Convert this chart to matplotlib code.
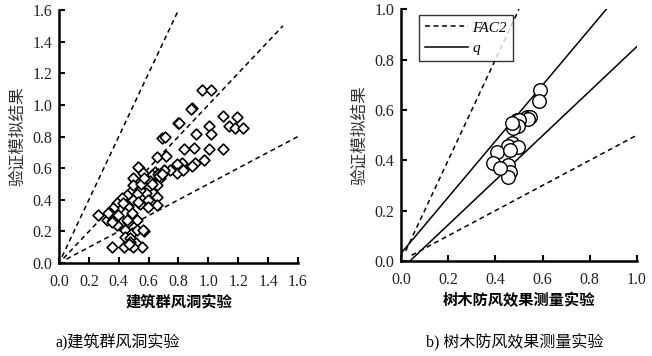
import matplotlib
matplotlib.use("Agg")
import matplotlib.pyplot as plt
import numpy as np
from matplotlib.lines import Line2D

# ---------------- data ----------------
left_x = [0.959, 1.017, 0.888, 0.881, 0.794, 0.806, 0.692, 0.709, 0.658, 0.714,
          1.100, 1.194, 1.140, 1.178, 1.234, 1.004, 1.015, 0.915, 0.906, 0.837,
          1.006, 1.100, 0.971, 0.913, 0.892, 0.823, 0.792, 0.788, 0.828, 0.743,
          0.698, 0.643, 0.654, 0.676, 0.620, 0.587, 0.538, 0.497, 0.576, 0.598,
          0.631, 0.580, 0.542, 0.497, 0.654, 0.598, 0.542, 0.654, 0.598, 0.520,
          0.453, 0.419, 0.386, 0.460, 0.408, 0.364, 0.341, 0.259, 0.319, 0.364,
          0.442, 0.486, 0.520, 0.464, 0.386, 0.442, 0.486, 0.520, 0.571, 0.442,
          0.475, 0.515, 0.475, 0.355, 0.435, 0.553, 0.497, 0.397, 0.497, 0.654,
          0.531, 0.564, 0.430, 0.531, 0.330, 0.353, 0.453, 0.564, 0.470, 0.660,
          0.670, 0.610, 0.550, 0.700, 0.690, 0.620, 0.570]
left_y = [1.091, 1.095, 0.979, 0.973, 0.884, 0.888, 0.789, 0.800, 0.673, 0.679,
          0.930, 0.926, 0.867, 0.852, 0.852, 0.867, 0.816, 0.816, 0.730, 0.722,
          0.719, 0.719, 0.652, 0.631, 0.614, 0.631, 0.624, 0.568, 0.589, 0.589,
          0.568, 0.578, 0.557, 0.536, 0.557, 0.525, 0.599, 0.536, 0.483, 0.473,
          0.441, 0.445, 0.462, 0.494, 0.420, 0.399, 0.373, 0.367, 0.357, 0.437,
          0.430, 0.409, 0.378, 0.357, 0.335, 0.346, 0.314, 0.304, 0.272, 0.272,
          0.314, 0.314, 0.272, 0.262, 0.241, 0.209, 0.188, 0.209, 0.203, 0.167,
          0.156, 0.124, 0.135, 0.103, 0.103, 0.103, 0.103, 0.304, 0.399, 0.494,
          0.609, 0.568, 0.380, 0.388, 0.315, 0.261, 0.272, 0.209, 0.120, 0.560,
          0.550, 0.520, 0.500, 0.590, 0.560, 0.500, 0.540]

right_x = [0.589, 0.586, 0.533, 0.545, 0.540, 0.490, 0.500, 0.497, 0.476, 0.470,
           0.469, 0.455, 0.497, 0.405, 0.462, 0.391, 0.455, 0.462, 0.454, 0.420]
right_y = [0.681, 0.636, 0.573, 0.572, 0.565, 0.560, 0.560, 0.537, 0.527, 0.550,
           0.468, 0.455, 0.454, 0.434, 0.441, 0.388, 0.381, 0.355, 0.335, 0.370]

# FAC2 reference lines: (factor, x start, x end)
left_fac_factor = [2.0, 1.0, 0.5]
left_fac_x0 = [0.02, 0.03, 0.05]
left_fac_x1 = [0.80, 1.50, 1.60]

right_fac_factor = [2.0, 0.5]
right_fac_x0 = [0.02, 0.045]
right_fac_x1 = [0.50, 1.00]

# q lines: (slope, intercept, x start, x end)
q_slope = [1.115, 0.886]
q_intercept = [0.03, -0.0337]
q_x0 = [0.0, 0.038]
q_x1 = [0.87, 1.00]

left_ticks = [0.0, 0.2, 0.4, 0.6, 0.8, 1.0, 1.2, 1.4, 1.6]
right_ticks = [0.0, 0.2, 0.4, 0.6, 0.8, 1.0]

ylabel = "验证模拟结果"
left_xlabel = "建筑群风洞实验"
right_xlabel = "树木防风效果测量实验"

# ---------------- style ----------------
serif = ["Liberation Serif", "DejaVu Serif"]
cjk = ["Noto Sans CJK SC", "DejaVu Sans"]

fig = plt.figure(figsize=(6.52, 3.56), dpi=100)
axL = fig.add_axes([0.0905, 0.261, 0.3665, 0.711])
axR = fig.add_axes([0.615, 0.267, 0.362, 0.707])

dash = (0, (3.2, 2.4))

def style_axes(ax, ticks):
    ax.set_xlim(ticks[0], ticks[-1])
    ax.set_ylim(ticks[0], ticks[-1])
    ax.set_xticks(ticks)
    ax.set_yticks(ticks)
    ax.set_xticklabels([f"{t:.1f}" for t in ticks], fontfamily=serif, fontsize=11.5, color="#222222")
    ax.set_yticklabels([f"{t:.1f}" for t in ticks], fontfamily=serif, fontsize=11.5, color="#222222")
    for s in ["top", "right"]:
        ax.spines[s].set_visible(False)
    for s in ["left", "bottom"]:
        ax.spines[s].set_linewidth(1.8)
    ax.tick_params(direction="in", length=4, width=1.5)
    ax.tick_params(axis="x", pad=8)
    ax.tick_params(axis="y", pad=5)
    ax.set_ylabel(ylabel, fontfamily=cjk, fontsize=12, color="#333333", labelpad=4)

# Left panel
for f, a, b in zip(left_fac_factor, left_fac_x0, left_fac_x1):
    xs = np.array([a, b])
    axL.plot(xs, f * xs, color="black", lw=1.1, linestyle=dash, zorder=1)
axL.scatter(left_x, left_y, marker="D", s=30, facecolors="white",
            edgecolors="black", linewidths=1.2, zorder=3)
style_axes(axL, left_ticks)
axL.set_xlabel(left_xlabel, fontfamily=cjk, fontsize=11, fontweight="bold", labelpad=3)

# Right panel
for f, a, b in zip(right_fac_factor, right_fac_x0, right_fac_x1):
    xs = np.array([a, b])
    axR.plot(xs, f * xs, color="black", lw=1.1, linestyle=dash, zorder=1)
for m, c, a, b in zip(q_slope, q_intercept, q_x0, q_x1):
    xs = np.array([a, b])
    axR.plot(xs, m * xs + c, color="black", lw=1.1, zorder=1)
axR.scatter(right_x, right_y, marker="o", s=95, facecolors="white",
            edgecolors="black", linewidths=1.0, zorder=3)
style_axes(axR, right_ticks)
axR.set_xlabel(right_xlabel, fontfamily=cjk, fontsize=11, fontweight="bold", labelpad=3)

handles = [Line2D([], [], color="black", lw=1.1, linestyle=dash),
           Line2D([], [], color="black", lw=1.1)]
leg = axR.legend(handles, ["FAC2", "q"], loc="upper left",
                 bbox_to_anchor=(0.065, 0.99), frameon=True, fancybox=False,
                 edgecolor="black", handlelength=2.8, handletextpad=0.25,
                 borderpad=0.4, labelspacing=0.45, borderaxespad=0.2,
                 prop={"family": serif, "style": "italic", "size": 11})
leg.get_frame().set_linewidth(1.0)

# Captions
fig.text(0.18, 0.037, "a)建筑群风洞实验", fontfamily=["Liberation Serif", "Noto Sans CJK SC"],
         fontsize=11.5, ha="center", va="center")
fig.text(0.79, 0.037, "b) 树木防风效果测量实验", fontfamily=["Liberation Serif", "Noto Sans CJK SC"],
         fontsize=11.5, ha="center", va="center")

fig.savefig("out.png", dpi=100)
